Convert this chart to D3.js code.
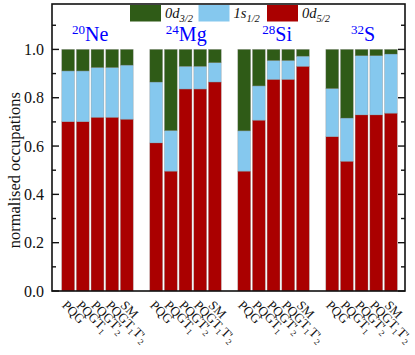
<!DOCTYPE html>
<html>
<style>
    body { margin: 0; background: #fff; }
    svg text { font-family: "Liberation Serif", "DejaVu Serif", serif; fill: #111; }
    .tick-label { font-size: 16px; text-anchor: end; }
    .nucleus { fill: #0000ff; font-size: 20px; text-anchor: middle; }
    .leg text { font-size: 14.5px; font-style: italic; }
    .xlab { font-size: 13px; }
</style>
<body>
<svg id="viz" width="415" height="355"></svg>

<script src="https://cdnjs.cloudflare.com/ajax/libs/d3/7.8.5/d3.min.js"></script>
<script>
    var nuclei = [['20', 'Ne'], ['24', 'Mg'], ['28', 'Si'], ['32', 'S']];
    var nucleusShift = [-0.5, 0.05, 0.25, 0.1];
    var methods = ['PQG', 'PQGT1', "PQGT'2", "PQGT1T'2", 'SM'];

    // cumulative tops of the 0d5/2 and 1s1/2 layers (0d3/2 fills to 1)
    var d52 = [
        [0.701, 0.701, 0.719, 0.719, 0.711],
        [0.613, 0.496, 0.836, 0.836, 0.865],
        [0.496, 0.707, 0.876, 0.876, 0.930],
        [0.639, 0.537, 0.729, 0.729, 0.736]
    ];
    var s12top = [
        [0.911, 0.911, 0.925, 0.925, 0.935],
        [0.865, 0.664, 0.930, 0.930, 0.945],
        [0.663, 0.849, 0.954, 0.954, 0.972],
        [0.838, 0.716, 0.974, 0.974, 0.981]
    ];
    var yTicks = [0.0, 0.2, 0.4, 0.6, 0.8, 1.0];

    var colors = { d32: '#2f5b17', s12: '#85c8ee', d52: '#aa0000' };

    var svg = d3.select('#viz');
    var pL = 52, pR = 405, pT = 4, pB = 291;

    var x = d3.scaleLinear().domain([-0.1, 23.96]).range([pL, pR]);
    var y = d3.scaleLinear().domain([0, 1.188]).range([pB, pT]);
    var barW = (x(1) - x(0)) * 0.87;

    var rows = [];
    nuclei.forEach(function(n, g) {
        methods.forEach(function(m, j) {
            var pos = g * 6 + j + 1;
            rows.push({pos: pos, y0: 0, y1: d52[g][j], c: colors.d52});
            rows.push({pos: pos, y0: d52[g][j], y1: s12top[g][j], c: colors.s12});
            rows.push({pos: pos, y0: s12top[g][j], y1: 1, c: colors.d32});
        });
    });

    svg.append('g').selectAll('rect')
        .data(rows).enter().append('rect')
        .attr('x', function(d) { return x(d.pos) - barW / 2; })
        .attr('width', barW)
        .attr('y', function(d) { return y(d.y1); })
        .attr('height', function(d) { return y(d.y0) - y(d.y1); })
        .attr('fill', function(d) { return d.c; })
        .attr('stroke', 'rgba(120,120,120,0.45)')
        .attr('stroke-width', 0.6);

    // frame
    svg.append('rect')
        .attr('x', pL).attr('y', pT)
        .attr('width', pR - pL).attr('height', pB - pT)
        .attr('fill', 'none').attr('stroke', '#111').attr('stroke-width', 1.6);

    // inward ticks on both sides
    var minor = d3.range(1, 12, 2).map(function(v) { return v / 10; });
    [pL, pR].forEach(function(xx, side) {
        var dir = side === 0 ? 1 : -1;
        svg.append('g').selectAll('line')
            .data(yTicks).enter().append('line')
            .attr('x1', xx).attr('x2', xx + dir * 7)
            .attr('y1', function(d) { return y(d); })
            .attr('y2', function(d) { return y(d); })
            .attr('stroke', '#111').attr('stroke-width', 1.4);
        svg.append('g').selectAll('line')
            .data(minor).enter().append('line')
            .attr('x1', xx).attr('x2', xx + dir * 4)
            .attr('y1', function(d) { return y(d); })
            .attr('y2', function(d) { return y(d); })
            .attr('stroke', '#111').attr('stroke-width', 1.4);
    });

    svg.append('g').selectAll('text')
        .data(yTicks).enter().append('text')
        .attr('class', 'tick-label')
        .attr('x', pL - 8)
        .attr('y', function(d) { return y(d) + 5.5; })
        .text(function(d) { return d.toFixed(1); });

    svg.append('text')
        .attr('transform', 'translate(20,' + y(0.5) + ') rotate(-90)')
        .attr('text-anchor', 'middle')
        .style('font-size', '16.5px')
        .text('normalised occupations');

    // nucleus labels
    nuclei.forEach(function(n, g) {
        var t = svg.append('text').attr('class', 'nucleus')
            .attr('x', x(g * 6 + 3 + nucleusShift[g]))
            .attr('y', 41);
        t.append('tspan').attr('font-size', '13px').attr('dy', -7).text(n[0]);
        t.append('tspan').attr('dy', 7).text(n[1]);
    });

    // legend
    var legend = [
        {c: colors.d32, a: '0d', s: '3/2'},
        {c: colors.s12, a: '1s', s: '1/2'},
        {c: colors.d52, a: '0d', s: '5/2'}
    ];
    var leg = svg.append('g').attr('class', 'leg')
        .selectAll('g').data(legend).enter().append('g')
        .attr('transform', function(d, i) { return 'translate(' + (130 + i * 68.5) + ',5)'; });
    leg.append('rect').attr('width', 31).attr('height', 16.5)
        .attr('fill', function(d) { return d.c; });
    var lt = leg.append('text').attr('x', 35).attr('y', 13);
    lt.append('tspan').text(function(d) { return d.a; });
    lt.append('tspan').attr('dy', 4).attr('font-size', '10.5px').text(function(d) { return d.s; });

    // x labels, rotated
    function addLabel(sel, m) {
        var parts = m.match(/[A-Z]'?\d?/g);
        parts.forEach(function(p) {
            var base = p.replace(/\d/, '');
            var sub = p.match(/\d/);
            sel.append('tspan').text(base);
            if (sub) {
                sel.append('tspan').attr('dy', 3).attr('font-size', '8.5px').text(sub[0]);
                sel.append('tspan').attr('dy', -3).text('\u200b');
            }
        });
    }
    nuclei.forEach(function(n, g) {
        methods.forEach(function(m, j) {
            var cx = x(g * 6 + j + 1);
            var t = svg.append('text').attr('class', 'xlab')
                .attr('transform', 'translate(' + (cx - 7) + ',306) rotate(45)');
            addLabel(t, m);
        });
    });
</script>
</body>
</html>
